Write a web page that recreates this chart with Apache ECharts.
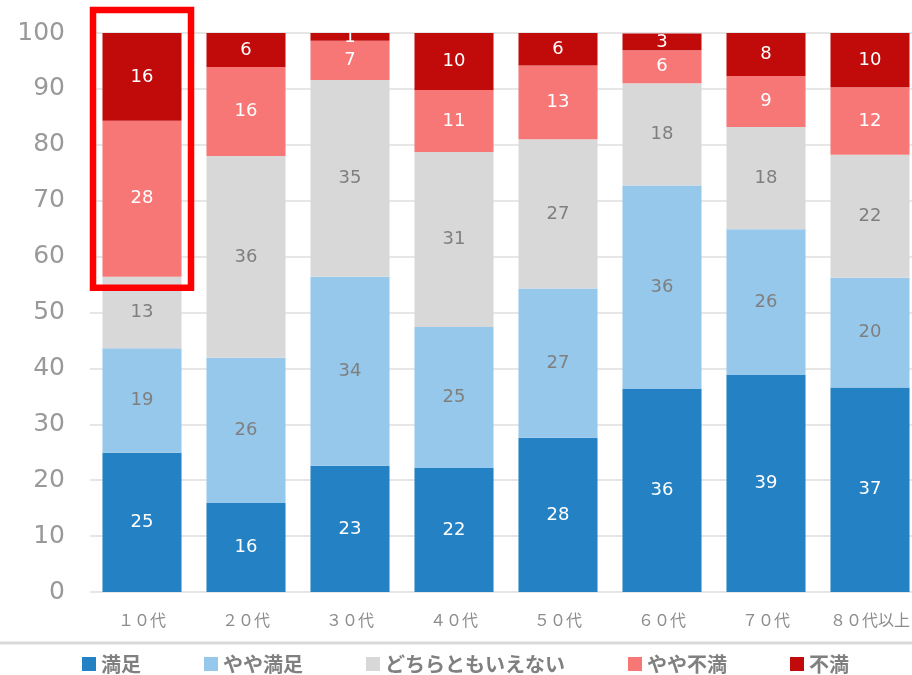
<!DOCTYPE html>
<html>
<head>
<meta charset="utf-8">
<script src="https://cdn.jsdelivr.net/npm/echarts@6/dist/echarts.min.js"></script>
<style>
    html, body { margin: 0; padding: 0; background: #fff; }
    #chart { width: 912px; height: 675px; }
</style>
</head>
<body>
<div id="chart"></div>
<script>
// 年代別の満足度（％）
const categories = ['１０代', '２０代', '３０代', '４０代', '５０代', '６０代', '７０代', '８０代以上'];
const seriesNames = ['満足', 'やや満足', 'どちらともいえない', 'やや不満', '不満'];
const manzoku     = [24.9, 15.9, 22.6, 22.2, 27.6, 36.3, 38.8, 36.6];
const yayaManzoku = [18.7, 26.0, 33.8, 25.2, 26.7, 36.4, 26.1, 19.6];
const dochiramo   = [12.8, 36.1, 35.2, 31.3, 26.7, 18.3, 18.3, 22.0];
const yayaFuman   = [27.9, 15.9, 7.0, 11.1, 13.2, 5.9, 9.1, 12.1];
const fuman       = [15.7, 6.1, 1.4, 10.2, 5.9, 3.0, 7.7, 9.7];
const yTicks = [0, 10, 20, 30, 40, 50, 60, 70, 80, 90, 100];

const colors = ['#2381c4', '#96c8eb', '#d8d8d8', '#f77777', '#c10a0a'];
const labelColors = ['#ffffff', '#7f7f7f', '#7f7f7f', '#ffffff', '#ffffff'];
const dataList = [manzoku, yayaManzoku, dochiramo, yayaFuman, fuman];

var myChart = echarts.init(document.getElementById('chart'));

var series = seriesNames.map(function (name, i) {
    return {
        name: name,
        type: 'bar',
        stack: 'total',
        barCategoryGap: '24%',
        data: dataList[i],
        itemStyle: { color: colors[i] },
        label: {
            show: true,
            position: 'inside',
            color: labelColors[i],
            fontFamily: 'DejaVu Sans',
            fontSize: 18,
            formatter: function (p) { return Math.round(p.value); }
        }
    };
});

var option = {
    animation: false,
    backgroundColor: '#ffffff',
    grid: { left: 90, top: 33, width: 832, height: 559, outerBoundsMode: 'none', containLabel: false },
    legend: {
        data: seriesNames,
        left: 77,
        top: 649,
        itemWidth: 14,
        itemHeight: 14,
        itemGap: 63,
        icon: 'rect',
        textStyle: {
            color: '#808080',
            fontWeight: 'bold',
            fontSize: 20,
            fontFamily: 'Noto Sans CJK JP'
        }
    },
    xAxis: {
        type: 'category',
        data: categories,
        axisTick: { show: false },
        axisLine: { show: false },
        axisLabel: {
            interval: 0,
            color: '#8c8c8c',
            fontSize: 16,
            fontFamily: 'Noto Sans CJK JP',
            margin: 20
        }
    },
    yAxis: {
        type: 'value',
        min: yTicks[0],
        max: yTicks[yTicks.length - 1],
        interval: 10,
        axisLine: { show: false },
        axisTick: { show: false },
        axisLabel: {
            color: '#999999',
            fontSize: 25,
            fontFamily: 'DejaVu Sans',
            margin: 25
        },
        splitLine: { lineStyle: { color: '#e6e6e6', width: 2 } }
    },
    series: series
};

myChart.setOption(option);

// 強調枠（１０代の不満側）と区切り線
var cx = myChart.convertToPixel({ xAxisIndex: 0 }, categories[0]);
var yTop = myChart.convertToPixel({ yAxisIndex: 0 }, 100);
var yBottom = myChart.convertToPixel({ yAxisIndex: 0 }, manzoku[0] + yayaManzoku[0] + dochiramo[0]);
myChart.setOption({
    graphic: [
        {
            type: 'rect',
            shape: { x: cx - 49, y: yTop - 23, width: 98, height: yBottom + 11 - (yTop - 23) },
            style: { fill: 'none', stroke: '#ff0000', lineWidth: 6.5 },
            z: 100
        },
        {
            type: 'line',
            shape: { x1: 0, y1: 643, x2: 912, y2: 643 },
            style: { stroke: '#d9d9d9', lineWidth: 3 },
            z: 100
        }
    ]
});
</script>
</body>
</html>
